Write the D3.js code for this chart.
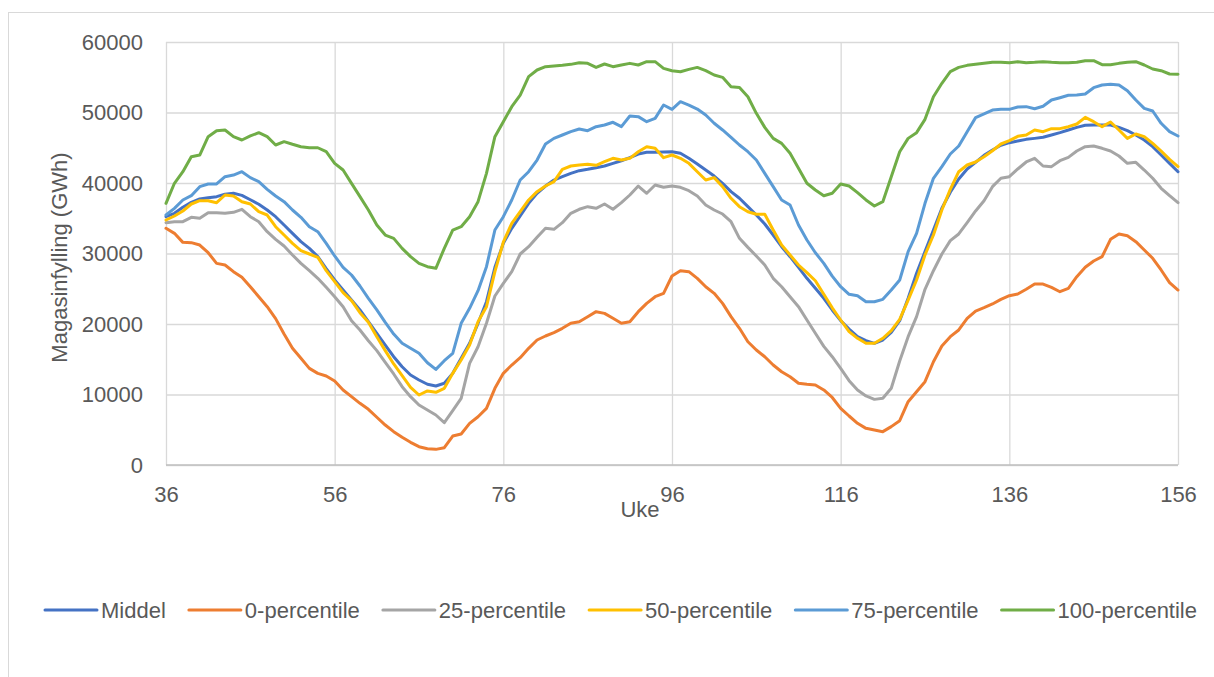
<!DOCTYPE html>
<html>
<head>
<meta charset="utf-8">
<script src="https://cdn.jsdelivr.net/npm/d3@7"></script>
<style>
  html, body { margin: 0; padding: 0; background: #fff; }
  svg { display: block; }
  text { font-family: "Liberation Sans", Arial, sans-serif; fill: #595959; }
</style>
</head>
<body>
<svg id="chart" width="1214" height="677"></svg>
<script>
// ---- Data ----
const weeks = d3.range(36, 157);
const xTicks = [36, 56, 76, 96, 116, 136, 156];
const yTicks = [0, 10000, 20000, 30000, 40000, 50000, 60000];
const seriesNames = ["Middel", "0-percentile", "25-percentile", "50-percentile", "75-percentile", "100-percentile"];
const seriesColors = ["#4472C4", "#ED7D31", "#A5A5A5", "#FFC000", "#5B9BD5", "#70AD47"];

const middel = [
  35220, 35700, 36550, 37260, 37730, 37920, 38060, 38400, 38540, 38250,
  37630, 36980, 36170, 35220, 34040, 32860, 31680, 30730, 29550, 27850,
  26240, 24820, 23400, 21990, 20330, 18680, 17020, 15360, 13940, 12770,
  12060, 11450, 11210, 11590, 13000, 15130, 17260, 20100, 23160, 28040,
  31440, 33570, 35320, 37120, 38540, 39570, 40420, 40900, 41370, 41750,
  41940, 42170, 42410, 42790, 43160, 43590, 44110, 44350, 44350, 44400,
  44440, 44210, 43500, 42690, 41840, 40990, 39960, 38770, 37830, 36640,
  35460, 34180, 32620, 30960, 29550, 28040, 26480, 25060, 23640, 21990,
  20470, 19290, 18200, 17630, 17260, 17730, 18820, 20470, 23640, 27190,
  30260, 33330, 36410, 38680, 40570, 41990, 42930, 43930, 44680, 45350,
  45720, 45960, 46190, 46330, 46480, 46810, 47140, 47520, 47890, 48180,
  48230, 48230, 48230, 47890, 47420, 46810, 46100, 45150, 43970, 42790,
  41600
];
const p0 = [
  33570, 32860, 31580, 31540, 31200, 30110, 28600, 28370, 27420, 26620,
  25290, 23870, 22460, 20760, 18580, 16550, 15130, 13710, 13000, 12620,
  11910, 10640, 9690, 8750, 7900, 6770, 5670, 4730, 3930, 3220,
  2600, 2310, 2220, 2460, 4110, 4400, 5910, 6850, 8040, 10880,
  13000, 14180, 15220, 16550, 17730, 18300, 18770, 19390, 20100, 20330,
  21040, 21750, 21510, 20810, 20100, 20330, 21750, 22930, 23870, 24350,
  26810, 27560, 27420, 26480, 25290, 24350, 22930, 21040, 19390, 17490,
  16310, 15360, 14180, 13230, 12520, 11590, 11450, 11350, 10640, 9580,
  8040, 6950, 5910, 5200, 4960, 4730, 5440, 6290, 8980, 10400,
  11820, 14650, 16880, 18200, 19150, 20810, 21840, 22310, 22840, 23500,
  24020, 24250, 24920, 25670, 25670, 25200, 24580, 25060, 26710, 28040,
  28940, 29550, 32010, 32770, 32530, 31680, 30500, 29320, 27660, 25860,
  24820
];
const p25 = [
  34370, 34510, 34510, 35130, 34990, 35790, 35790, 35700, 35840, 36270,
  35220, 34510, 33090, 32010, 31060, 29790, 28600, 27560, 26480, 25200,
  23870, 22460, 20470, 19150, 17630, 16220, 14570, 12910, 11110, 9690,
  8510, 7800, 7090, 6000, 7700, 9460, 14420, 16780, 20100, 23970,
  25770, 27420, 29930, 30960, 32290, 33570, 33430, 34370, 35700, 36270,
  36640, 36410, 37020, 36270, 37210, 38300, 39570, 38540, 39720, 39390,
  39570, 39390, 38910, 38150, 36880, 36170, 35600, 34510, 32150, 30870,
  29650, 28370, 26480, 25290, 23870, 22460, 20570, 18680, 16830, 15360,
  13710, 11960, 10640, 9790, 9310, 9460, 10880, 14750, 18200, 21040,
  24920, 27560, 29930, 31820, 32770, 34370, 36030, 37490, 39480, 40670,
  40900, 41990, 42980, 43500, 42410, 42320, 43160, 43640, 44540, 45150,
  45250, 44920, 44540, 43830, 42790, 42930, 41840, 40670, 39250, 38200,
  37210
];
const p50 = [
  34750, 35320, 36030, 37020, 37490, 37490, 37210, 38300, 38150, 37350,
  37020, 35930, 35460, 33800, 32620, 31440, 30400, 29930, 29460, 27560,
  26000, 24440, 23310, 21610, 20240, 18200, 16220, 14330, 12670, 11020,
  9930, 10500, 10310, 10880, 13000, 14890, 17020, 20330, 22460, 27420,
  31600, 34280, 35930, 37590, 38770, 39570, 40190, 41940, 42410, 42550,
  42650, 42510, 43020, 43500, 43260, 43500, 44440, 45150, 44920, 43590,
  43970, 43500, 42790, 41600, 40420, 40760, 39480, 37830, 36640, 35930,
  35560, 35560, 33330, 31200, 29790, 28370, 27280, 26140, 24230, 22300,
  20570, 18910, 17970, 17260, 17260, 17970, 19050, 20670, 23400, 26240,
  29790, 32620, 36170, 39100, 41600, 42550, 42980, 43730, 44580, 45530,
  46000, 46620, 46810, 47520, 47280, 47710, 47710, 47990, 48370, 49310,
  48700, 47990, 48650, 47520, 46330, 46950, 46570, 45620, 44540, 43350,
  42320
];
const p75 = [
  35460, 36410, 37590, 38200, 39480, 39860, 39860, 40900, 41130, 41600,
  40760, 40190, 39100, 38150, 37350, 36170, 35130, 33800, 33090, 31440,
  29650, 28040, 26950, 25390, 23640, 21990, 20240, 18580, 17260, 16550,
  15840, 14510, 13570, 14790, 15840, 20100, 22230, 24720, 28130, 33330,
  35220, 37590, 40420, 41600, 43260, 45530, 46330, 46810, 47280, 47660,
  47420, 47990, 48230, 48610, 47990, 49500, 49410, 48700, 49170, 51060,
  50450, 51530, 51060, 50490, 49640, 48470, 47520, 46480, 45390, 44440,
  43260, 41370, 39480, 37590, 36880, 34040, 31910, 30110, 28600, 26800,
  25290, 24210, 24020, 23160, 23160, 23500, 24820, 26240, 30260, 32860,
  37120, 40670, 42320, 44110, 45250, 47280, 49270, 49790, 50350, 50450,
  50450, 50780, 50830, 50540, 50880, 51770, 52100, 52440, 52480, 52620,
  53520, 53900, 54000, 53900, 53090, 51770, 50590, 50210, 48470, 47280,
  46670
];
const p100 = [
  37120, 39960, 41600, 43730, 43970, 46570, 47420, 47520, 46570, 46100,
  46670, 47140, 46570, 45390, 45860, 45490, 45150, 45000, 45000, 44440,
  42790, 41840, 39950, 38060, 36170, 34040, 32620, 32150, 30730, 29550,
  28600, 28130, 27900, 30730, 33330, 33800, 35220, 37350, 41370, 46570,
  48700, 50830, 52480, 55080, 56030, 56500, 56600, 56690, 56830, 57070,
  56970, 56400, 56880, 56500, 56740, 56970, 56740, 57210, 57210, 56260,
  55930, 55790, 56120, 56400, 55930, 55320, 54990, 53660, 53560, 52240,
  49880, 47890, 46330, 45620, 44210, 42080, 39960, 39010, 38200, 38540,
  39860, 39570, 38630, 37590, 36740, 37350, 40900, 44440, 46330, 47140,
  49030, 52240, 54140, 55790, 56400, 56690, 56830, 56970, 57120, 57120,
  57070, 57210, 57070, 57120, 57210, 57120, 57070, 57070, 57120, 57350,
  57350, 56780, 56780, 56970, 57120, 57210, 56740, 56170, 55930, 55460,
  55420
];
const seriesValues = [middel, p0, p25, p50, p75, p100];
const xTitle = "Uke";
const yTitle = "Magasinfylling (GWh)";

// ---- Layout ----
const W = 1214, H = 677;
const plot = { left: 166, right: 1178, top: 42, bottom: 465 };
const FS = "22px";

const svg = d3.select("#chart");

// chart frame
svg.append("rect")
  .attr("x", 8.5).attr("y", 12.5)
  .attr("width", W + 10).attr("height", H + 10)
  .attr("fill", "none").attr("stroke", "#d9d9d9").attr("stroke-width", 1);

const x = d3.scaleLinear().domain([36, 156]).range([plot.left, plot.right]);
const y = d3.scaleLinear().domain([0, 60000]).range([plot.bottom, plot.top]);

// horizontal gridlines
const yGrid = svg.append("g")
  .attr("transform", `translate(${plot.left},0)`)
  .call(d3.axisLeft(y).tickValues(yTicks).tickSize(-(plot.right - plot.left)).tickFormat(""));
yGrid.select(".domain").remove();
yGrid.selectAll(".tick line").attr("stroke", "#d9d9d9").attr("stroke-width", 1.3);

// vertical gridlines
const xGrid = svg.append("g")
  .attr("transform", `translate(0,${plot.bottom})`)
  .call(d3.axisBottom(x).tickValues(xTicks).tickSize(-(plot.bottom - plot.top)).tickFormat(""));
xGrid.select(".domain").remove();
xGrid.selectAll(".tick line").attr("stroke", "#d9d9d9").attr("stroke-width", 1.3);

// x axis baseline
svg.append("line")
  .attr("x1", plot.left).attr("x2", plot.right)
  .attr("y1", y(0)).attr("y2", y(0))
  .attr("stroke", "#bfbfbf").attr("stroke-width", 1.3);

// y axis labels
const yAxis = svg.append("g")
  .attr("transform", `translate(${plot.left},0)`)
  .call(d3.axisLeft(y).tickValues(yTicks).tickSize(0).tickPadding(23).tickFormat(d3.format("d")));
yAxis.select(".domain").remove();
yAxis.selectAll("text")
  .style("font-size", FS)
  .style("font-family", "'Liberation Sans', Arial, sans-serif")
  .attr("fill", "#595959");

// x axis labels
const xAxis = svg.append("g")
  .attr("transform", `translate(0,${plot.bottom})`)
  .call(d3.axisBottom(x).tickValues(xTicks).tickSize(0).tickPadding(21).tickFormat(d3.format("d")));
xAxis.select(".domain").remove();
xAxis.selectAll("text")
  .style("font-size", FS)
  .style("font-family", "'Liberation Sans', Arial, sans-serif")
  .attr("fill", "#595959");

// axis titles
svg.append("text")
  .attr("x", 640).attr("y", 517)
  .attr("text-anchor", "middle")
  .style("font-size", FS)
  .text(xTitle);

svg.append("text")
  .attr("transform", `translate(67,${(plot.top + plot.bottom) / 2 + 4}) rotate(-90)`)
  .attr("text-anchor", "middle")
  .style("font-size", FS)
  .text(yTitle);

// lines
const line = d3.line()
  .x((d, i) => x(weeks[i]))
  .y(d => y(d));

svg.append("g").selectAll("path")
  .data(seriesValues)
  .join("path")
  .attr("d", d => line(d))
  .attr("fill", "none")
  .attr("stroke", (d, i) => seriesColors[i])
  .attr("stroke-width", 3)
  .attr("stroke-linejoin", "round")
  .attr("stroke-linecap", "round");

// legend
const legend = svg.append("g");
const legendY = 610;
const sampleLen = 52, sampleGap = 4;
const legendLeft = 45, legendRight = 1197;
const items = [];
seriesNames.forEach((name, i) => {
  const g = legend.append("g");
  g.append("line")
    .attr("x1", 0).attr("x2", sampleLen)
    .attr("y1", 0).attr("y2", 0)
    .attr("stroke", seriesColors[i]).attr("stroke-width", 3)
    .attr("stroke-linecap", "round");
  const t = g.append("text")
    .attr("x", sampleLen + sampleGap).attr("y", 0)
    .attr("dy", "0.35em")
    .style("font-size", FS)
    .text(name);
  const w = sampleLen + sampleGap + t.node().getComputedTextLength();
  items.push({ g, w });
});
const gap = (legendRight - legendLeft - d3.sum(items, d => d.w)) / (items.length - 1);
let start = legendLeft;
items.forEach(it => {
  it.g.attr("transform", `translate(${start},${legendY})`);
  start += it.w + gap;
});
</script>
</body>
</html>
